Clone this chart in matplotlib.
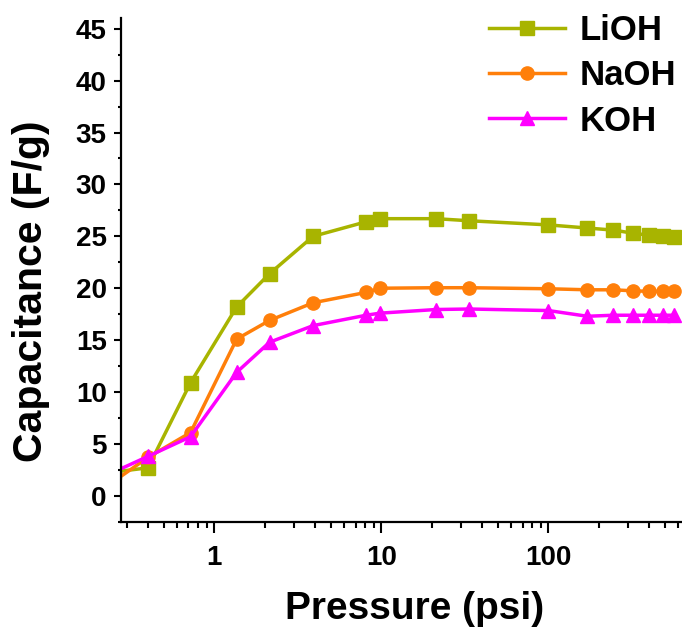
import matplotlib.pyplot as plt
from matplotlib.ticker import LogLocator, NullFormatter, MultipleLocator, FuncFormatter

plt.rcParams['font.family'] = ['Liberation Sans', 'DejaVu Sans']
plt.rcParams['font.weight'] = 'bold'

# pressure (psi) and capacitance (F/g)
pressure = [0.25, 0.40, 0.72, 1.36, 2.14, 3.9, 8.1, 9.8, 21.2, 33.5, 100, 171, 244, 322, 402, 487, 566]
lioh = [2.3, 2.7, 10.9, 18.2, 21.4, 25.0, 26.4, 26.7, 26.7, 26.5, 26.1, 25.8, 25.6, 25.3, 25.1, 25.0, 24.9]
naoh = [1.4, 3.7, 6.1, 15.1, 16.9, 18.6, 19.6, 20.0, 20.05, 20.05, 19.95, 19.85, 19.85, 19.75, 19.7, 19.7, 19.7]
koh = [2.3, 3.8, 5.7, 11.9, 14.8, 16.4, 17.4, 17.6, 17.95, 18.0, 17.85, 17.3, 17.4, 17.4, 17.4, 17.4, 17.4]

series = [
    ('LiOH', lioh, '#a8b400', 's'),
    ('NaOH', naoh, '#ff7f0a', 'o'),
    ('KOH', koh, '#ff00ff', '^'),
]

fig = plt.figure(figsize=(6.82, 6.31), dpi=100)
ax = fig.add_axes([0.177, 0.173, 0.823, 0.798])

for name, vals, col, mk in series:
    ax.plot(pressure, vals, color=col, marker=mk, lw=2.5, ms=9.5, label=name)

ax.set_xscale('log')
ax.set_xlim(0.275, 630)
ax.set_ylim(-2.5, 46)

ax.xaxis.set_major_locator(LogLocator(base=10, numticks=10))
ax.xaxis.set_minor_locator(LogLocator(base=10, subs=range(2, 10), numticks=20))
ax.xaxis.set_minor_formatter(NullFormatter())
ax.xaxis.set_major_formatter(FuncFormatter(lambda v, p: f'{v:g}'))
ax.yaxis.set_major_locator(MultipleLocator(5))
ax.yaxis.set_minor_locator(MultipleLocator(2.5))

ax.spines['top'].set_visible(False)
ax.spines['right'].set_visible(False)
for s in ('left', 'bottom'):
    ax.spines[s].set_linewidth(1.6)

ax.tick_params(axis='both', which='major', labelsize=20, width=1.5)
ax.tick_params(axis='y', which='major', length=5, pad=5)
ax.tick_params(axis='y', which='minor', length=2.5, width=1.5)
ax.tick_params(axis='x', which='major', length=8, pad=9)
ax.tick_params(axis='x', which='minor', length=4, width=1.5)

ax.set_xlabel('Pressure (psi)', fontsize=28, fontweight='bold')
ax.set_ylabel('Capacitance (F/g)', fontsize=29.5, fontweight='bold')
ax.xaxis.set_label_coords(0.524, -0.138)
ax.yaxis.set_label_coords(-0.126, 0.458)

ax.legend(loc='upper right', bbox_to_anchor=(1.045, 1.07), frameon=False, fontsize=25,
          handlelength=2.2, handletextpad=0.4, labelspacing=0.35)

fig.savefig('out.png', dpi=100)
